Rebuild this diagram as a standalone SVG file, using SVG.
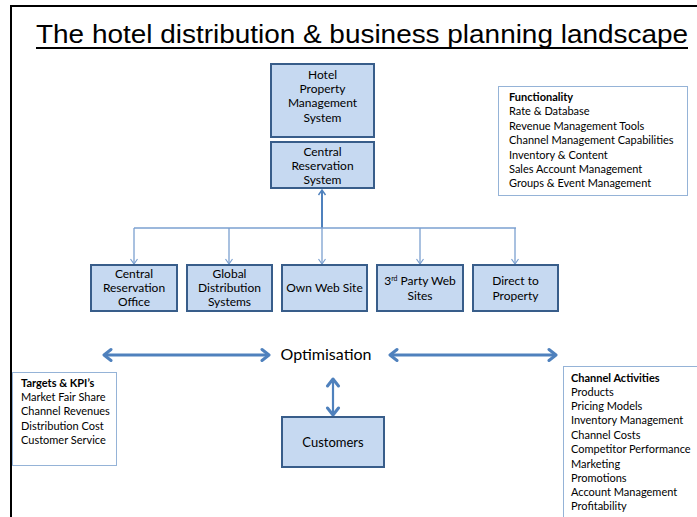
<svg xmlns="http://www.w3.org/2000/svg" width="697" height="517" viewBox="0 0 697 517">
  <style>
    .node rect { fill: #c6d9f1; stroke: #385d8a; stroke-width: 2; }
    .node text { font-family: Lato, "Open Sans", sans-serif; font-size: 12px; fill: #000; text-anchor: middle; }
    .panel rect { fill: #fff; stroke: #95b3d7; stroke-width: 1; }
    .panel text { font-family: Lato, "Open Sans", sans-serif; font-size: 11px; fill: #000; }
    .panel .head { font-weight: bold; }
    .feed { fill: none; stroke: #7ba0d0; stroke-width: 1.3; }
    .trunk { fill: none; stroke: #4f81bd; stroke-width: 2; }
    .flow { fill: none; stroke: #4f81bd; stroke-width: 3; }
  </style>
  <defs>
    <marker id="tip-thin" markerUnits="userSpaceOnUse" markerWidth="12" markerHeight="12" refX="6" refY="4" viewBox="0 0 12 8" orient="auto">
      <path d="M1,0.5 L6,4 L1,7.5" fill="none" stroke="#7ba0d0" stroke-width="1.2"/>
    </marker>
    <marker id="tip-trunk" markerUnits="userSpaceOnUse" markerWidth="12" markerHeight="12" refX="6" refY="4" viewBox="0 0 12 8" orient="auto">
      <path d="M1,0.5 L6,4 L1,7.5" fill="none" stroke="#4f81bd" stroke-width="1.4"/>
    </marker>
    <marker id="tip-flow" markerUnits="userSpaceOnUse" markerWidth="14" markerHeight="16" refX="9" refY="7" viewBox="0 0 14 14" orient="auto-start-reverse">
      <path d="M2,1.5 L9,7 L2,12.5" fill="none" stroke="#4f81bd" stroke-width="3" stroke-linecap="round" stroke-linejoin="round"/>
    </marker>
  </defs>

  <rect width="697" height="517" fill="#fff"/>

  <!-- page frame -->
  <path d="M11,517 L11,6 L697,6" fill="none" stroke="#000" stroke-width="2"/>

  <!-- title -->
  <g id="title">
    <text x="36" y="43" font-family="'Liberation Sans', Arial, sans-serif" font-size="25" textLength="652" lengthAdjust="spacingAndGlyphs">The hotel distribution &amp; business planning landscape</text>
    <line x1="36" y1="48" x2="688" y2="48" stroke="#000" stroke-width="2.2"/>
  </g>

  <!-- connectors -->
  <g id="connectors">
    <line class="trunk" x1="322" y1="228" x2="322" y2="190" marker-end="url(#tip-trunk)"/>
    <line class="feed" x1="134" y1="228" x2="516" y2="228"/>
    <line class="feed" x1="134" y1="228" x2="134" y2="264" marker-end="url(#tip-thin)"/>
    <line class="feed" x1="229" y1="228" x2="229" y2="264" marker-end="url(#tip-thin)"/>
    <line class="feed" x1="322" y1="228" x2="322" y2="264" marker-end="url(#tip-thin)"/>
    <line class="feed" x1="420" y1="228" x2="420" y2="264" marker-end="url(#tip-thin)"/>
    <line class="feed" x1="515" y1="228" x2="515" y2="264" marker-end="url(#tip-thin)"/>
    <line class="flow" x1="104" y1="355" x2="269" y2="355" marker-start="url(#tip-flow)" marker-end="url(#tip-flow)"/>
    <line class="flow" x1="390" y1="355" x2="556" y2="355" marker-start="url(#tip-flow)" marker-end="url(#tip-flow)"/>
    <line class="flow" x1="333" y1="379" x2="333" y2="415" marker-start="url(#tip-flow)" marker-end="url(#tip-flow)" style="stroke-width:2.2"/>
  </g>

  <!-- systems -->
  <g id="pms" class="node">
    <rect x="271" y="64" width="103" height="73"/>
    <text x="322.5" y="79">Hotel</text>
    <text x="322.5" y="93">Property</text>
    <text x="322.5" y="107">Management</text>
    <text x="322.5" y="122">System</text>
  </g>
  <g id="crs" class="node">
    <rect x="271" y="142" width="103" height="46"/>
    <text x="322.5" y="156">Central</text>
    <text x="322.5" y="170">Reservation</text>
    <text x="322.5" y="184">System</text>
  </g>

  <!-- channels -->
  <g id="cro" class="node">
    <rect x="91" y="265" width="86" height="46"/>
    <text x="134" y="278">Central</text>
    <text x="134" y="292">Reservation</text>
    <text x="134" y="306">Office</text>
  </g>
  <g id="gds" class="node">
    <rect x="187" y="265" width="85" height="46"/>
    <text x="229.5" y="278">Global</text>
    <text x="229.5" y="292">Distribution</text>
    <text x="229.5" y="306">Systems</text>
  </g>
  <g id="web" class="node">
    <rect x="282" y="265" width="85" height="46"/>
    <text x="324.5" y="292">Own Web Site</text>
  </g>
  <g id="thirdparty" class="node">
    <rect x="377" y="265" width="86" height="46"/>
    <text x="420" y="285">3<tspan font-size="7" dy="-4">rd</tspan><tspan dy="4"> Party Web</tspan></text>
    <text x="420" y="300">Sites</text>
  </g>
  <g id="direct" class="node">
    <rect x="473" y="265" width="85" height="46"/>
    <text x="515.5" y="285">Direct to</text>
    <text x="515.5" y="300">Property</text>
  </g>

  <!-- optimisation hub -->
  <g id="optimisation">
    <text x="326" y="360" font-family="Lato, 'Open Sans', sans-serif" font-size="16" text-anchor="middle">Optimisation</text>
  </g>

  <g id="customers" class="node">
    <rect x="282" y="417" width="102" height="50"/>
    <text x="333" y="447" style="font-size:13px">Customers</text>
  </g>

  <!-- information panels -->
  <g id="functionality" class="panel">
    <rect x="498.5" y="86.5" width="189" height="109"/>
    <text x="509" y="101" class="head">Functionality</text>
    <text x="509" y="115">Rate &amp; Database</text>
    <text x="509" y="130">Revenue Management Tools</text>
    <text x="509" y="144">Channel Management  Capabilities</text>
    <text x="509" y="159">Inventory &amp; Content</text>
    <text x="509" y="173">Sales Account Management</text>
    <text x="509" y="187">Groups &amp; Event Management</text>
  </g>

  <g id="targets" class="panel">
    <rect x="12.5" y="372.5" width="104" height="93"/>
    <text x="21" y="387" class="head">Targets &amp; KPI’s</text>
    <text x="21" y="401">Market Fair Share</text>
    <text x="21" y="415">Channel Revenues</text>
    <text x="21" y="430">Distribution Cost</text>
    <text x="21" y="444">Customer Service</text>
  </g>

  <g id="activities" class="panel">
    <rect x="563.5" y="366.5" width="140" height="160"/>
    <text x="571" y="382" class="head">Channel Activities</text>
    <text x="571" y="396">Products</text>
    <text x="571" y="410">Pricing Models</text>
    <text x="571" y="424">Inventory Management</text>
    <text x="571" y="439">Channel Costs</text>
    <text x="571" y="453">Competitor Performance</text>
    <text x="571" y="468">Marketing</text>
    <text x="571" y="482">Promotions</text>
    <text x="571" y="496">Account Management</text>
    <text x="571" y="510">Profitability</text>
  </g>
</svg>
